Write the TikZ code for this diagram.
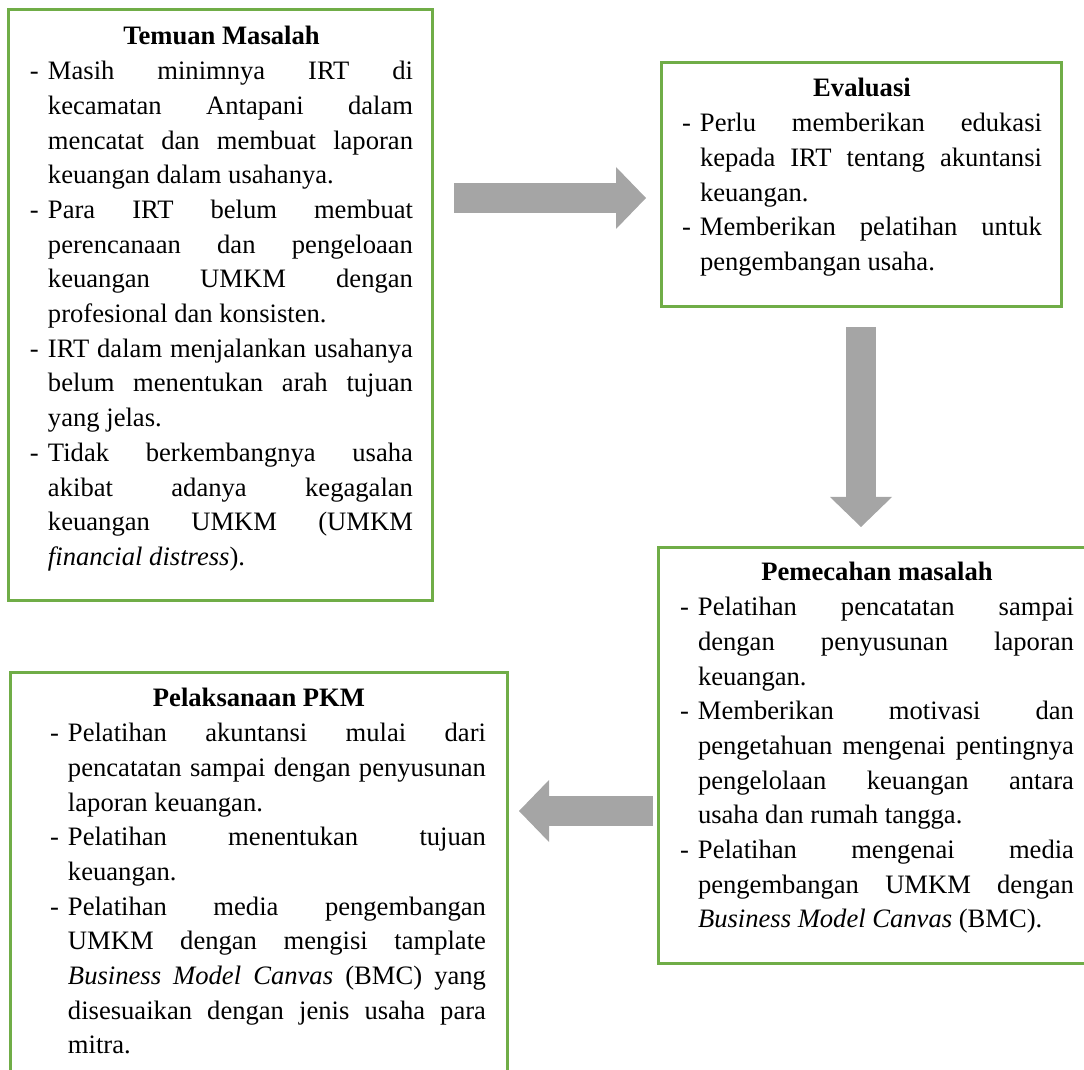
\documentclass[tikz,border=0pt]{standalone}
\usepackage{fontspec}
\setmainfont{Liberation Serif}
\usepackage{tikz}
\usetikzlibrary{arrows.meta,positioning}

\definecolor{boxgreen}{RGB}{112,173,71}
\definecolor{arrowgray}{RGB}{165,165,165}

\setlength{\parskip}{0pt}
\tolerance=10000
\hyphenpenalty=10000
\newlength{\dashw}
\setlength{\dashw}{9pt}
\newcommand{\boxfont}{\fontsize{13.3}{17.35}\selectfont}
\newcommand{\judul}[2][0pt]{{\centering\strut\hspace*{#1}\textbf{#2}\par}}
\newcommand{\poin}{\par\hangindent=\dashw\hangafter=1\noindent\makebox[\dashw][l]{-}}

\begin{document}
\begin{tikzpicture}[x=0.5pt, y=-0.5pt,
		box/.style={draw=boxgreen, line width=1.5pt, inner sep=0pt, outer sep=0pt, anchor=north west},
		isi/.style={inner sep=0pt, outer sep=0pt, align=justify, font=\boxfont},
		blockarrow/.style={draw=arrowgray, line width=15pt, -{Triangle[length=15pt, width=31pt, line width=0pt]}}]
		\useasboundingbox (0,0) rectangle (1084,1070);
		
		\node[box, minimum width=212pt, minimum height=295pt] (temuan) at (8,10) {};
		\node[box, minimum width=200pt, minimum height=122pt] (evaluasi) at (661,63) {};
		\node[box, minimum width=218.5pt, minimum height=208pt] (pemecahan) at (658,547) {};
		\node[box, minimum width=248.5pt, minimum height=209pt] (pelaksanaan) at (10,672) {};
		
		\node[isi, text width=191.5pt, below right=5.35pt and 11pt of temuan.north west] (temuanisi) {%
			\judul{Temuan Masalah}
			\poin Masih minimnya IRT di\linebreak kecamatan Antapani dalam\linebreak mencatat dan membuat laporan\linebreak keuangan dalam usahanya.
			\poin Para IRT belum membuat\linebreak perencanaan dan pengeloaan\linebreak keuangan UMKM dengan\linebreak profesional dan konsisten.
			\poin IRT dalam menjalankan usahanya\linebreak belum menentukan arah tujuan\linebreak yang jelas.
			\poin Tidak berkembangnya usaha\linebreak akibat adanya kegagalan\linebreak keuangan UMKM (UMKM\linebreak \textit{financial distress}).\par};
		
		\node[isi, text width=180pt, below right=4.85pt and 10.5pt of evaluasi.north west] (evaluasiisi) {%
			\judul{Evaluasi}
			\poin Perlu memberikan edukasi\linebreak kepada IRT tentang akuntansi\linebreak keuangan.
			\poin Memberikan pelatihan untuk\linebreak pengembangan usaha.\par};
		
		\node[isi, text width=197pt, below right=4.85pt and 11pt of pemecahan.north west] (pemecahanisi) {%
			\judul{Pemecahan masalah}
			\poin Pelatihan pencatatan sampai\linebreak dengan penyusunan laporan\linebreak keuangan.
			\poin Memberikan motivasi dan\linebreak pengetahuan mengenai pentingnya\linebreak pengelolaan keuangan antara\linebreak usaha dan rumah tangga.
			\poin Pelatihan mengenai media\linebreak pengembangan UMKM dengan\linebreak \textit{Business Model Canvas} (BMC).\par};
		
		\node[isi, text width=218pt, below right=5.35pt and 20pt of pelaksanaan.north west] (pelaksanaanisi) {%
			\judul[-9pt]{Pelaksanaan PKM}
			\poin Pelatihan akuntansi mulai dari\linebreak pencatatan sampai dengan penyusunan\linebreak laporan keuangan.
			\poin Pelatihan menentukan tujuan\linebreak keuangan.
			\poin Pelatihan media pengembangan\linebreak UMKM dengan mengisi tamplate\linebreak \textit{Business Model Canvas} (BMC) yang\linebreak disesuaikan dengan jenis usaha para\linebreak mitra.\par};
		
		\coordinate (lvlA) at (0,198);
		\coordinate (lvlC) at (0,811);
		\draw[blockarrow, shorten <=11pt, shorten >=7.5pt] (temuan.east |- lvlA) -- (evaluasi.west |- lvlA);
		\draw[blockarrow, shorten <=10pt, shorten >=10pt] (evaluasi.south) -- (evaluasi.south |- pemecahan.north);
		\draw[blockarrow, shorten <=2.5pt, shorten >=6pt] (pemecahan.west |- lvlC) -- (pelaksanaan.east |- lvlC);
	\end{tikzpicture}
\end{document}
